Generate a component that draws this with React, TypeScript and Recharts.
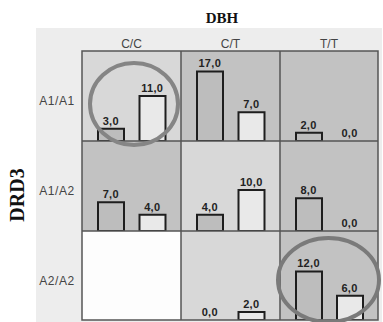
import { ComposedChart, Bar, Line, Cell, XAxis, YAxis, LabelList } from 'recharts';

// DBH genotypes across the top, DRD3 genotypes down the side
const dbhGenotypes = ['C/C', 'C/T', 'T/T'];
const drd3Genotypes = ['A1/A1', 'A1/A2', 'A2/A2'];

// two counts per cell; null = no data for that combination
const firstCounts = [
  [3, 17, 2],
  [7, 4, 8],
  [null, 0, 12],
];
const secondCounts = [
  [11, 7, 0],
  [4, 10, 0],
  [null, 2, 6],
];

// panel shading: L = light, D = dark, W = white
const cellShade = [
  ['L', 'D', 'D'],
  ['D', 'L', 'D'],
  ['W', 'L', 'D'],
];

const shadeColor: Record<string, string> = { L: '#d8d8d8', D: '#c2c2c2', W: '#fdfdfd' };
const barFills = ['#bdbdbd', '#e9e9e9'];

const colX = [82, 181, 280];
const colW = [99, 99, 98];
const rowY = [51, 141, 231];
const rowH = [90, 90, 89];

const sans = '"Liberation Sans", Arial, sans-serif';
const serif = '"Liberation Serif", "Times New Roman", serif';

const fmt = (v: any) => Number(v).toFixed(1).replace('.', ',');

function CellChart({ r, c }: { r: number; c: number }) {
  const a = firstCounts[r][c];
  const b = secondCounts[r][c];
  if (a === null || b === null) return null;
  const data = [
    { name: 'first', value: a },
    { name: 'second', value: b },
  ];
  return (
    <ComposedChart
      width={colW[c]}
      height={rowH[r]}
      data={data}
      margin={{ top: 0, right: 8, bottom: 0, left: 8 }}
      barCategoryGap={0}
    >
      <XAxis dataKey="name" hide />
      <YAxis hide domain={[0, 22]} />
      <Bar dataKey="value" barSize={26} stroke="#1e1e1e" strokeWidth={2} isAnimationActive={false}>
        {data.map((d, i) => (
          <Cell key={d.name} fill={barFills[i]} />
        ))}
      </Bar>
      {/* invisible line that only carries the value labels (zero bars included) */}
      <Line dataKey="value" stroke="none" dot={false} activeDot={false} isAnimationActive={false}>
        <LabelList
          dataKey="value"
          position="top"
          offset={4}
          formatter={fmt}
          style={{ fill: '#222', fontSize: 11, fontWeight: 'bold', fontFamily: sans, letterSpacing: 0.3 }}
        />
      </Line>
    </ComposedChart>
  );
}

export default function App() {
  const gridRight = colX[2] + colW[2];
  const gridBottom = rowY[2] + rowH[2];
  return (
    <div style={{ position: 'absolute', left: 0, top: 0, width: 383, height: 322, background: '#fff', overflow: 'hidden' }}>
      <div style={{ position: 'absolute', left: 36, top: 28, width: 346, height: 294, background: '#ededed' }} />
      {rowY.map((y, r) =>
        colX.map((x, c) => (
          <div
            key={`${r}-${c}`}
            style={{ position: 'absolute', left: x, top: y, width: colW[c], height: rowH[r], background: shadeColor[cellShade[r][c]] }}
          >
            <CellChart r={r} c={c} />
          </div>
        ))
      )}
      <svg width={383} height={322} style={{ position: 'absolute', left: 0, top: 0, pointerEvents: 'none' }}>
        <text x={222} y={23} textAnchor="middle" fontFamily={serif} fontWeight="bold" fontSize={15} fill="#111">
          DBH
        </text>
        <text
          x={0}
          y={0}
          transform="translate(24,195) rotate(-90)"
          textAnchor="middle"
          fontFamily={serif}
          fontWeight="bold"
          fontSize={20}
          fill="#111"
        >
          DRD3
        </text>
        {dbhGenotypes.map((g, c) => (
          <text key={g} x={colX[c] + colW[c] / 2} y={48} textAnchor="middle" fontFamily={sans} fontSize={12} fill="#444">
            {g}
          </text>
        ))}
        {drd3Genotypes.map((g, r) => (
          <text key={g} x={57} y={rowY[r] + rowH[r] / 2 + 9} textAnchor="middle" fontFamily={sans} fontSize={12} letterSpacing={0.6} fill="#444">
            {g}
          </text>
        ))}
        <rect x={colX[0]} y={rowY[0]} width={gridRight - colX[0]} height={gridBottom - rowY[0]} fill="none" stroke="#555" strokeWidth={1.5} />
        {colX.slice(1).map((x) => (
          <line key={`v${x}`} x1={x} x2={x} y1={rowY[0]} y2={gridBottom} stroke="#555" strokeWidth={1.5} />
        ))}
        {rowY.slice(1).map((y) => (
          <line key={`h${y}`} x1={colX[0]} x2={gridRight} y1={y} y2={y} stroke="#555" strokeWidth={1.5} />
        ))}
        <ellipse cx={134} cy={104} rx={44} ry={41} fill="none" stroke="#858585" strokeWidth={4} />
        <ellipse cx={328.5} cy={280} rx={50.5} ry={42} fill="none" stroke="#7a7a7a" strokeWidth={4} />
      </svg>
    </div>
  );
}
